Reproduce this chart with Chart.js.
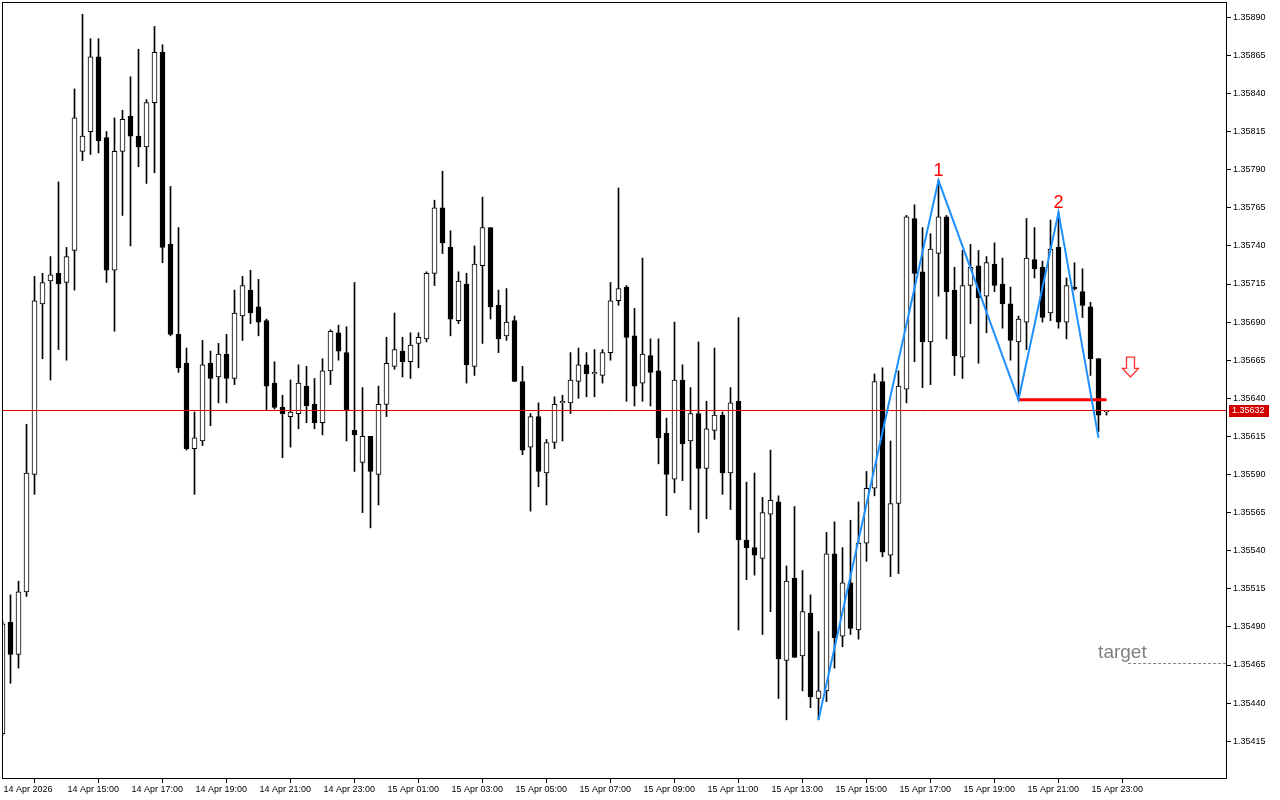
<!DOCTYPE html>
<html><head><meta charset="utf-8">
<script src="https://cdn.jsdelivr.net/npm/chart.js@4.4.1/dist/chart.umd.min.js"></script>
<style>html,body{margin:0;padding:0;background:#fff;}canvas{display:block;}</style>
</head><body>
<canvas id="c" width="1280" height="800"></canvas>
<script>
// M15 candles, 14 Apr 13:00 .. 15 Apr 23:30
const opens = [1.35420,1.35493,1.35472,1.35513,1.35590,1.35702,1.35717,1.35722,1.35716,1.35737,
1.35802,1.35815,1.35864,1.35811,1.35724,1.35802,1.35825,1.35812,1.35805,1.35834,
1.35867,1.35741,1.35682,1.35663,1.35607,1.35612,1.35663,1.35654,1.35669,1.35653,
1.35694,1.35711,1.35700,1.35691,1.35650,1.35634,1.35628,1.35630,1.35648,1.35636,
1.35624,1.35658,1.35683,1.35670,1.35619,1.35598,1.35615,1.35590,1.35636,1.35661,
1.35671,1.35664,1.35676,1.35679,1.35722,1.35765,1.35739,1.35691,1.35715,1.35661,
1.35727,1.35752,1.35701,1.35681,1.35691,1.35651,1.35608,1.35628,1.35591,1.35611,
1.35637,1.35637,1.35651,1.35662,1.35656,1.35655,1.35670,1.35704,1.35713,1.35681,
1.35650,1.35668,1.35658,1.35617,1.35587,1.35652,1.35612,1.35630,1.35594,1.35619,
1.35629,1.35591,1.35638,1.35547,1.35542,1.35535,1.35564,1.35572,1.35468,1.35522,
1.35471,1.35499,1.35443,1.35448,1.35538,1.35484,1.35519,1.35488,1.35545,1.35581,
1.35651,1.35537,1.35571,1.35646,1.35758,1.35723,1.35677,1.35735,1.35759,1.35711,
1.35667,1.35714,1.35727,1.35707,1.35728,1.35715,1.35702,1.35677,1.35690,1.35731,
1.35726,1.35696,1.35739,1.35690,1.35713,1.35710,1.35700,1.35666,1.35631];
const highs = [1.35494,1.35511,1.35520,1.35623,1.35720,1.35722,1.35733,1.35782,1.35739,1.35843,
1.35892,1.35876,1.35876,1.35815,1.35824,1.35829,1.35851,1.35869,1.35836,1.35884,
1.35872,1.35779,1.35752,1.35673,1.35631,1.35678,1.35671,1.35676,1.35682,1.35711,
1.35720,1.35724,1.35718,1.35692,1.35664,1.35642,1.35652,1.35662,1.35661,1.35653,
1.35666,1.35685,1.35688,1.35687,1.35716,1.35647,1.35615,1.35648,1.35680,1.35696,
1.35680,1.35683,1.35683,1.35723,1.35770,1.35789,1.35750,1.35723,1.35722,1.35740,
1.35772,1.35752,1.35711,1.35712,1.35694,1.35661,1.35630,1.35637,1.35613,1.35641,
1.35642,1.35670,1.35673,1.35670,1.35672,1.35672,1.35716,1.35778,1.35714,1.35699,
1.35732,1.35679,1.35679,1.35627,1.35690,1.35662,1.35647,1.35677,1.35638,1.35673,
1.35631,1.35647,1.35693,1.35585,1.35591,1.35575,1.35606,1.35576,1.35530,1.35569,
1.35527,1.35511,1.35487,1.35552,1.35559,1.35542,1.35560,1.35572,1.35592,1.35656,
1.35660,1.35612,1.35658,1.35760,1.35767,1.35752,1.35748,1.35783,1.35760,1.35726,
1.35737,1.35741,1.35737,1.35733,1.35742,1.35732,1.35713,1.35694,1.35758,1.35752,
1.35730,1.35757,1.35762,1.35719,1.35729,1.35725,1.35703,1.35666,1.35632];
const lows = [1.35419,1.35453,1.35463,1.35510,1.35577,1.35666,1.35652,1.35672,1.35665,1.35711,
1.35796,1.35800,1.35801,1.35716,1.35684,1.35760,1.35740,1.35792,1.35781,1.35788,
1.35729,1.35681,1.35657,1.35606,1.35577,1.35609,1.35622,1.35637,1.35637,1.35649,
1.35678,1.35689,1.35681,1.35632,1.35633,1.35601,1.35608,1.35620,1.35624,1.35620,
1.35616,1.35649,1.35665,1.35612,1.35592,1.35565,1.35555,1.35570,1.35628,1.35659,
1.35654,1.35653,1.35660,1.35677,1.35714,1.35735,1.35681,1.35689,1.35650,1.35655,
1.35676,1.35692,1.35670,1.35678,1.35651,1.35603,1.35566,1.35582,1.35570,1.35607,
1.35612,1.35630,1.35640,1.35641,1.35641,1.35650,1.35665,1.35701,1.35638,1.35635,
1.35638,1.35635,1.35597,1.35563,1.35578,1.35586,1.35567,1.35552,1.35561,1.35613,
1.35577,1.35567,1.35488,1.35521,1.35524,1.35485,1.35500,1.35443,1.35429,1.35470,
1.35448,1.35437,1.35429,1.35441,1.35463,1.35477,1.35485,1.35482,1.35533,1.35576,
1.35536,1.35523,1.35525,1.35637,1.35664,1.35647,1.35649,1.35707,1.35679,1.35655,
1.35653,1.35689,1.35663,1.35683,1.35710,1.35686,1.35665,1.35639,1.35672,1.35719,
1.35690,1.35691,1.35686,1.35679,1.35711,1.35693,1.35655,1.35618,1.35629];
const closes = [1.35492,1.35472,1.35513,1.35591,1.35704,1.35716,1.35721,1.35715,1.35733,1.35824,
1.35812,1.35864,1.35809,1.35724,1.35802,1.35823,1.35812,1.35805,1.35834,1.35867,
1.35739,1.35682,1.35660,1.35607,1.35614,1.35662,1.35653,1.35669,1.35653,1.35696,
1.35714,1.35696,1.35690,1.35648,1.35634,1.35630,1.35631,1.35650,1.35635,1.35624,
1.35658,1.35684,1.35671,1.35632,1.35616,1.35615,1.35592,1.35636,1.35663,1.35672,
1.35664,1.35675,1.35680,1.35722,1.35765,1.35742,1.35692,1.35717,1.35662,1.35728,
1.35752,1.35700,1.35679,1.35690,1.35651,1.35606,1.35628,1.35592,1.35611,1.35636,
1.35638,1.35652,1.35662,1.35656,1.35657,1.35670,1.35704,1.35712,1.35680,1.35648,
1.35669,1.35657,1.35614,1.35590,1.35652,1.35610,1.35630,1.35594,1.35620,1.35629,
1.35591,1.35637,1.35547,1.35542,1.35537,1.35565,1.35573,1.35469,1.35520,1.35470,
1.35500,1.35444,1.35448,1.35538,1.35483,1.35519,1.35489,1.35545,1.35581,1.35651,
1.35539,1.35571,1.35648,1.35759,1.35722,1.35677,1.35738,1.35759,1.35710,1.35668,
1.35714,1.35726,1.35706,1.35729,1.35714,1.35702,1.35678,1.35692,1.35732,1.35725,
1.35693,1.35738,1.35690,1.35714,1.35712,1.35701,1.35666,1.35629,1.35632];

const xTickIndex = [0,8,16,24,32,40,48,56,64,72,80,88,96,104,112,120,128,136];
const xTickLabels = ["14 Apr 2026","14 Apr 15:00","14 Apr 17:00","14 Apr 19:00","14 Apr 21:00","14 Apr 23:00",
"15 Apr 01:00","15 Apr 03:00","15 Apr 05:00","15 Apr 07:00","15 Apr 09:00","15 Apr 11:00",
"15 Apr 13:00","15 Apr 15:00","15 Apr 17:00","15 Apr 19:00","15 Apr 21:00","15 Apr 23:00"];
const yTicks = [1.35415,1.35440,1.35465,1.35490,1.35515,1.35540,1.35565,1.35590,1.35615,1.35640,
1.35665,1.35690,1.35715,1.35740,1.35765,1.35790,1.35815,1.35840,1.35865,1.35890];

const bidPrice = 1.35632;
const zigzagIdx = [102,117,127,132,137];
const zigzagPrice = [1.35429,1.35783,1.35639,1.35762,1.35614];
const levelIdx = [127,138];
const levelPrice = 1.35639;
const peakLabels = ["1","2"];
const peakIdx = [117,132];
const peakPrice = [1.35783,1.35762];
const targetText = "target";
const targetPrice = 1.35466;
const targetTextIdx = 136.95;
const targetLineIdx = [140.7,153.1];
const arrowIdx = 140.95;
const arrowTopPrice = 1.35667;
const arrowTipPrice = 1.35654;

const X_MIN = -0.0625, X_MAX = 153.0625;
const Y_MIN = 1.35390202, Y_MAX = 1.35900045;

const idx = opens.map((_, i) => i);
const bodyData = idx.map(i => ({x: i, y: [Math.min(opens[i], closes[i]), Math.max(opens[i], closes[i])]}));
const wickData = idx.map(i => ({x: i, y: [lows[i], highs[i]]}));
const bodyColors = idx.map(i => closes[i] >= opens[i] ? '#ffffff' : '#000000');

const FONT = '"Liberation Sans", Arial, sans-serif';

const annot = {
  id: 'annot',
  afterDraw(chart) {
    const {ctx, chartArea: a, scales: {x, y}} = chart;
    ctx.save();
    ctx.strokeStyle = '#000'; ctx.lineWidth = 1;
    ctx.strokeRect(a.left + 0.5, a.top + 0.5, a.right - a.left - 1, a.bottom - a.top - 1);
    ctx.fillStyle = '#ff0000';
    ctx.font = '18px ' + FONT;
    ctx.textAlign = 'center'; ctx.textBaseline = 'alphabetic';
    peakLabels.forEach((t, k) => ctx.fillText(t, x.getPixelForValue(peakIdx[k]), y.getPixelForValue(peakPrice[k]) - 4));
    ctx.fillStyle = '#808080';
    ctx.font = '19px ' + FONT;
    ctx.textAlign = 'left';
    ctx.fillText(targetText, x.getPixelForValue(targetTextIdx), y.getPixelForValue(targetPrice) - 5);
    const ax = Math.round(x.getPixelForValue(arrowIdx)) + 0.5;
    const yt = y.getPixelForValue(arrowTopPrice), yb = y.getPixelForValue(arrowTipPrice);
    const hh = 8.5;
    ctx.beginPath();
    ctx.moveTo(ax - 4, yt); ctx.lineTo(ax + 4, yt); ctx.lineTo(ax + 4, yb - hh);
    ctx.lineTo(ax + 8, yb - hh); ctx.lineTo(ax, yb); ctx.lineTo(ax - 8, yb - hh);
    ctx.lineTo(ax - 4, yb - hh); ctx.closePath();
    ctx.fillStyle = '#ffffff'; ctx.fill();
    ctx.strokeStyle = '#ff3030'; ctx.lineWidth = 1.3; ctx.stroke();
    const py = y.getPixelForValue(bidPrice);
    ctx.fillStyle = '#d40000';
    ctx.fillRect(a.right + 2, Math.round(py) - 6, 40, 12);
    ctx.fillStyle = '#ffffff';
    ctx.font = '9px ' + FONT;
    ctx.textAlign = 'left'; ctx.textBaseline = 'middle';
    ctx.fillText(bidPrice.toFixed(5), a.right + 5, py + 0.5);
    ctx.restore();
  }
};

new Chart(document.getElementById('c'), {
  type: 'bar',
  data: {
    datasets: [
      {type: 'line', data: zigzagIdx.map((v, k) => ({x: v, y: zigzagPrice[k]})), borderColor: '#1e90ff', borderWidth: 2, pointRadius: 0, tension: 0, order: -3},
      {type: 'line', data: levelIdx.map(v => ({x: v, y: levelPrice})), borderColor: '#ff0000', borderWidth: 3, pointRadius: 0, order: -2},
      {type: 'line', data: [{x: X_MIN, y: bidPrice}, {x: X_MAX, y: bidPrice}], borderColor: '#dd0000', borderWidth: 1, pointRadius: 0, order: -1},
      {type: 'line', data: targetLineIdx.map(v => ({x: v, y: targetPrice})), borderColor: '#808080', borderWidth: 1, borderDash: [3, 2], pointRadius: 0, order: -1},
      {data: bodyData, backgroundColor: bodyColors, borderColor: '#000', borderWidth: 1, borderSkipped: false, barThickness: 5, grouped: false, order: 0},
      {data: wickData, backgroundColor: '#000', borderWidth: 0, barThickness: 1, grouped: false, order: 1}
    ]
  },
  options: {
    responsive: false, animation: false, devicePixelRatio: 1,
    layout: {padding: {left: 2, top: 2, right: 0, bottom: 0}, autoPadding: false},
    plugins: {legend: {display: false}, tooltip: {enabled: false}},
    scales: {
      x: {
        type: 'linear', min: X_MIN, max: X_MAX, offset: false,
        grid: {display: true, drawOnChartArea: false, drawTicks: true, tickLength: 4, color: '#000'},
        border: {display: false},
        afterBuildTicks: s => { s.ticks = xTickIndex.map(v => ({value: v})); },
        afterFit: s => { s.height = 21; s.paddingLeft = 0; s.paddingRight = 0; },
        ticks: {autoSkip: false, maxRotation: 0, minRotation: 0, align: 'start', padding: 2, labelOffset: 1,
          color: '#000', font: {family: FONT, size: 9, lineHeight: 1},
          callback: v => { const k = xTickIndex.indexOf(v); return k >= 0 ? xTickLabels[k] : ''; }}
      },
      y: {
        type: 'linear', position: 'right', min: Y_MIN, max: Y_MAX,
        grid: {display: true, drawOnChartArea: false, drawTicks: true, tickLength: 4, color: '#000'},
        border: {display: false},
        afterBuildTicks: s => { s.ticks = yTicks.map(v => ({value: v})); },
        afterFit: s => { s.width = 53; s.paddingTop = 0; s.paddingBottom = 0; },
        ticks: {padding: 2, color: '#000', font: {family: FONT, size: 9, lineHeight: 1},
          callback: v => Number(v).toFixed(5)}
      }
    }
  },
  plugins: [annot]
});
</script>
</body></html>
